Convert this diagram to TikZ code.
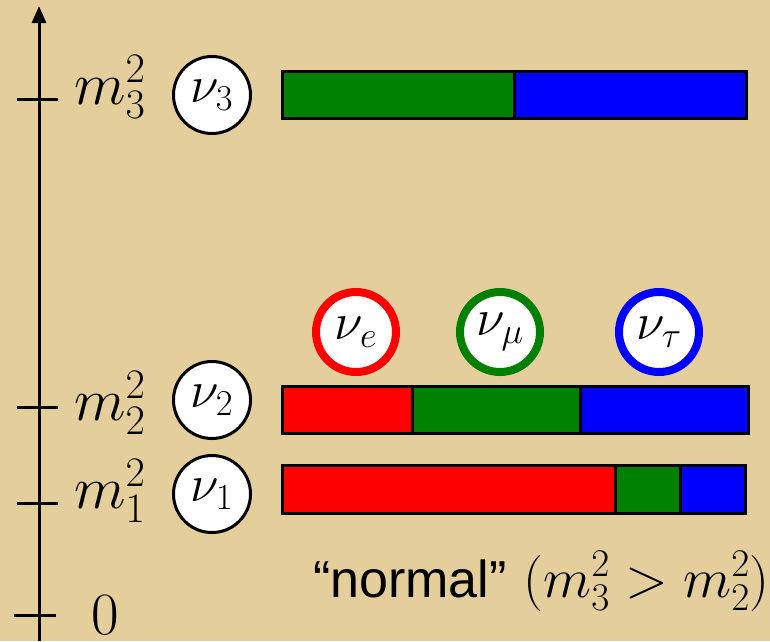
\RequirePackage{fix-cm}
\documentclass[tikz,border=0pt]{standalone}
\usepackage{fontspec}
\newfontfamily\sansf{Liberation Sans}
\usetikzlibrary{arrows.meta}
\definecolor{parch}{RGB}{228,207,156}
\definecolor{nured}{RGB}{255,0,0}
\definecolor{nugreen}{RGB}{0,128,0}
\definecolor{nublue}{RGB}{0,0,255}
\tikzset{
  bigfont/.style={font=\fontsize{52}{60}\selectfont},
  axfont/.style={font=\fontsize{60}{70}\selectfont},
  massc/.style={circle, draw=black, line width=3pt, fill=white, minimum size=77pt, inner sep=0pt, bigfont},
  flavc/.style={circle, draw=#1, line width=8pt, fill=white, minimum size=80pt, inner sep=0pt, bigfont},
  lab/.style={inner sep=0pt, anchor=base west, axfont},
  tickline/.style={line width=3pt},
  barline/.style={draw=black, line width=3pt},
}
\begin{document}
\begin{tikzpicture}[x=1pt,y=-1pt]
\fill[parch] (0,0) rectangle (770,641);
\path[use as bounding box] (0,0) rectangle (770,641);
% axis
\coordinate (axbot) at (39,641);
\coordinate (axtop) at (39,6);
\draw[line width=3pt, -{Triangle[length=17pt,width=14pt]}] (axbot) -- (axtop);
\draw[tickline] (17,99) -- (58,99);
\draw[tickline] (17,407) -- (58,407);
\draw[tickline] (17,503) -- (58,503);
\draw[tickline] (14,615) -- (56,615);
% labels
\node[lab] (m3) at (74,104) {$m_3^2$};
\node[lab] (m2) at (74,420) {$m_2^2$};
\node[lab] (m1) at (74,508) {$m_1^2$};
\node[lab] (zero) at (91,634) {$0$};
% mass circles
\node[massc] (nu3) at (212,95) {$\nu_3$};
\node[massc] (nu2) at (212,400) {$\nu_2$};
\node[massc] (nu1) at (212,494) {$\nu_1$};
% flavour circles
\node[flavc=nured] (nue) at (356,332) {$\nu_e$};
\node[flavc=nugreen] (numu) at (500,332) {$\nu_\mu$};
\node[flavc=nublue] (nutau) at (659,332) {$\nu_\tau$};
% bar nu3
\fill[nugreen] (282,71) rectangle (514,118);
\fill[nublue] (514,71) rectangle (746,118);
\draw[barline] (282,71) rectangle (746,118);
\draw[barline] (514,71) -- (514,118);
% bar nu2
\fill[nured] (282,386) rectangle (412,433);
\fill[nugreen] (412,386) rectangle (580,433);
\fill[nublue] (580,386) rectangle (748,433);
\draw[barline] (282,386) rectangle (748,433);
\draw[barline] (412,386) -- (412,433);
\draw[barline] (580,386) -- (580,433);
% bar nu1
\fill[nured] (282,465) rectangle (615,513);
\fill[nugreen] (615,465) rectangle (680,513);
\fill[nublue] (680,465) rectangle (745,513);
\draw[barline] (282,465) rectangle (745,513);
\draw[barline] (615,465) -- (615,513);
\draw[barline] (680,465) -- (680,513);
% caption
\node[inner sep=0pt, anchor=base east] (note) at (770,597) {{\fontsize{52}{60}\selectfont\sansf “normal”}\fontsize{56}{64}\selectfont\ $(m_3^2 > m_2^2)$};
\end{tikzpicture}
\end{document}
